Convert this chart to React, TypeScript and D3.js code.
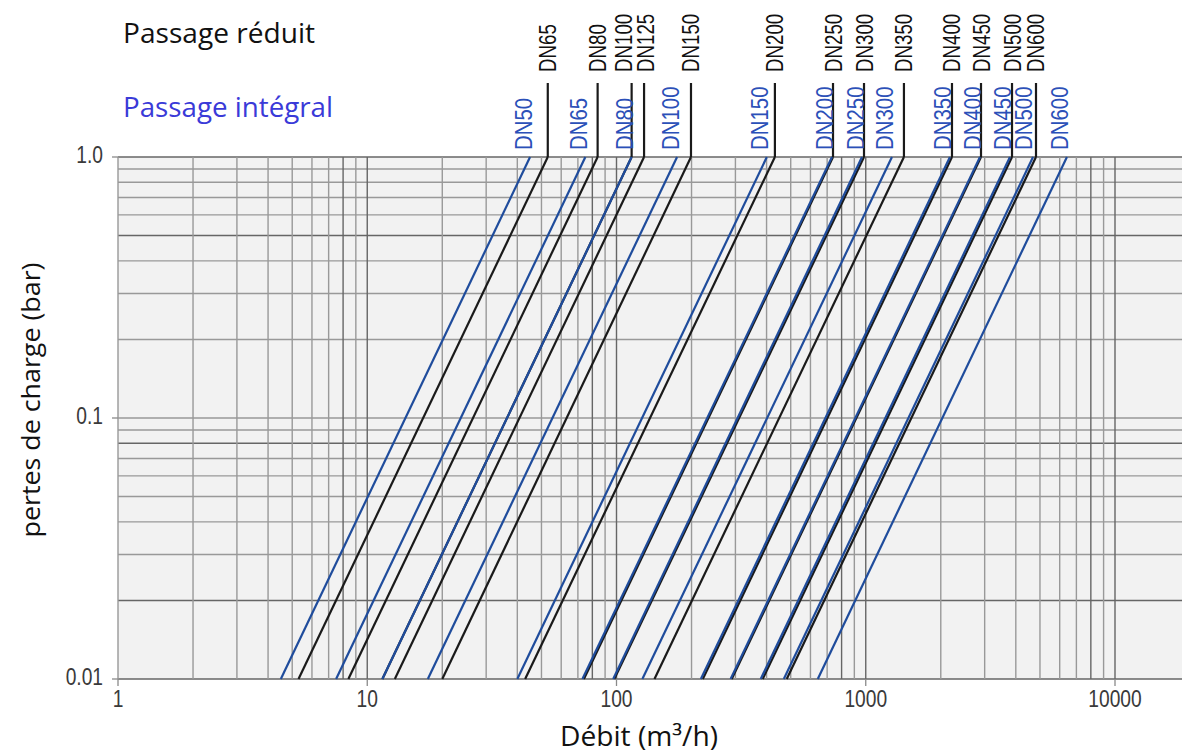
import React from "react";
import * as d3 from "d3";

// débit (m3/h) read at 1 bar and at 0.01 bar for each valve size
const integralNames = ["DN50", "DN65", "DN80", "DN100", "DN150", "DN200", "DN250", "DN300", "DN350", "DN400", "DN450", "DN500", "DN600"];
const integralQ1 = [45, 75, 115, 175, 401, 732, 966, 1274, 2177, 2873, 3790, 4690, 6415];
const integralQ001 = [4.5, 7.5, 11.5, 17.5, 40, 73, 97, 127, 218, 287, 379, 469, 642];

const reducedNames = ["DN65", "DN80", "DN100", "DN125", "DN150", "DN200", "DN250", "DN300", "DN350", "DN400", "DN450", "DN500", "DN600"];
const reducedQ1 = [53, 84, 115, 129, 199, 432, 739, 984, 1423, 2218, 2900, 3862, 4820];
const reducedQ001 = [5.3, 8.4, 11.5, 12.9, 20, 43, 74, 98, 142, 222, 290, 386, 482];

const xTicks = [1, 10, 100, 1000, 10000];
const xTickLabels = ["1", "10", "100", "1000", "10000"];
const yTicks = [1, 0.1, 0.01];
const yTickLabels = ["1.0", "0.1", "0.01"];
const xDark = [8, 10, 80, 100, 800, 1000, 8000, 10000];
const yDark = [1, 0.5, 0.08, 0.02, 0.01];

const W = 1182;
const H = 754;
const left = 118;
const top = 157;
const bottom = 679;
const xEnd = 1115;

const BLUE_LINE = "#1f4c9c";
const BLUE_TEXT = "#2b50b8";

// labels nudged sideways so they don't collide
const labelNudge: Record<string, number> = { DN100: -8, DN125: 1 };
const blueNudge: Record<string, number> = { DN500: -3 };

const x = d3.scaleLog().domain([1, 10000]).range([left, xEnd]);
const y = d3.scaleLog().domain([0.01, 1]).range([bottom, top]);

const xGrid: number[] = [];
for (let e = 0; e < 4; e++) for (let k = 1; k < 10; k++) xGrid.push(k * Math.pow(10, e));
xGrid.push(10000);
const yGrid: number[] = [];
for (let e = -2; e < 0; e++) for (let k = 1; k < 10; k++) yGrid.push(+(k * Math.pow(10, e)).toFixed(4));
yGrid.push(1);

const near = (a: number, arr: number[]) => arr.some((v) => Math.abs(v - a) / v < 1e-6);

const line = d3
  .line<[number, number]>()
  .x((d) => x(d[0]))
  .y((d) => y(d[1]));

const arial = "'Liberation Sans', Arial, sans-serif";
const calibri = "'Open Sans', sans-serif";

export default function App() {
  return (
    <svg width={W} height={H} style={{ position: "absolute", left: 0, top: 0, background: "#fff" }}>
      <rect x={left} y={top} width={W - left} height={bottom - top} fill="#f2f2f2" />

      {yGrid.map((v) => (
        <line key={"h" + v} x1={left} x2={W} y1={y(v)} y2={y(v)}
          stroke={near(v, yDark) ? "#666" : "#999"} strokeWidth={1.4} />
      ))}
      {xGrid.map((v) => (
        <line key={"v" + v} x1={x(v)} x2={x(v)} y1={top} y2={bottom}
          stroke={near(v, xDark) ? "#666" : "#999"} strokeWidth={1.4} />
      ))}

      {/* ticks */}
      {yTicks.map((v) => (
        <line key={"yt" + v} x1={left - 6} x2={left} y1={y(v)} y2={y(v)} stroke="#8a8a8a" strokeWidth={1.3} />
      ))}
      {xTicks.map((v) => (
        <line key={"xt" + v} x1={x(v)} x2={x(v)} y1={bottom} y2={bottom + 7} stroke="#8a8a8a" strokeWidth={1.3} />
      ))}
      {yTicks.map((v, i) => (
        <text key={"yl" + v} transform={`translate(103,${y(v) + 6}) scale(0.8,1)`} textAnchor="end"
          fontFamily={arial} fontSize={24} fill="#3a3a3a">{yTickLabels[i]}</text>
      ))}
      {xTicks.map((v, i) => (
        <text key={"xl" + v} transform={`translate(${x(v)},707) scale(0.8,1)`} textAnchor="middle"
          fontFamily={arial} fontSize={24} fill="#3a3a3a">{xTickLabels[i]}</text>
      ))}

      {/* passage réduit : black curves with leader lines */}
      {reducedNames.map((n, i) => {
        const tx = x(reducedQ1[i]);
        const lx = tx + (labelNudge[n] || 0);
        return (
          <g key={"r" + n}>
            <path d={line([[reducedQ001[i], 0.01], [reducedQ1[i], 1]]) || ""} fill="none" stroke="#1a1a1a" strokeWidth={2.2} />
            <line x1={tx} x2={tx} y1={top} y2={83} stroke="#1a1a1a" strokeWidth={2.2} />
            <text transform={`translate(${lx + 8.5},72) rotate(-90) scale(0.78,1)`} fontFamily={arial}
              fontSize={24} fill="#111">{n}</text>
          </g>
        );
      })}

      {/* passage intégral : blue curves */}
      {integralNames.map((n, i) => {
        const tx = x(integralQ1[i]) + (blueNudge[n] || 0);
        return (
          <g key={"i" + n}>
            <path d={line([[integralQ001[i], 0.01], [integralQ1[i], 1]]) || ""} fill="none" stroke={BLUE_LINE} strokeWidth={2.2} />
            <text transform={`translate(${tx + 1.5},150) rotate(-90) scale(0.85,1)`} fontFamily={arial}
              fontSize={24} fill={BLUE_TEXT}>{n}</text>
          </g>
        );
      })}

      <text x={123} y={43} fontFamily={calibri} fontSize={27} textLength={192} lengthAdjust="spacingAndGlyphs" fill="#111">Passage réduit</text>
      <text x={123} y={117} fontFamily={calibri} fontSize={27} textLength={210} lengthAdjust="spacingAndGlyphs" fill="#3a3ad8">Passage intégral</text>

      <text transform="translate(40,400) rotate(-90)" textAnchor="middle" fontFamily={calibri} fontSize={26}
        textLength={275} lengthAdjust="spacingAndGlyphs" fill="#111">pertes de charge (bar)</text>
      <text x={639} y={746} textAnchor="middle" fontFamily={calibri} fontSize={27}
        textLength={158} lengthAdjust="spacingAndGlyphs" fill="#111">Débit (m³/h)</text>
    </svg>
  );
}
